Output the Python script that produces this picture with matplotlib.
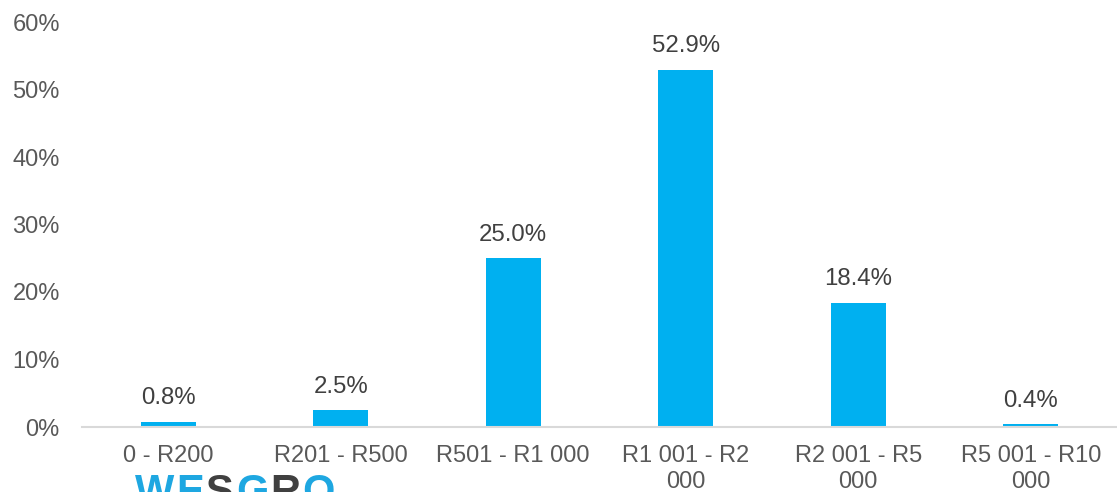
import matplotlib
matplotlib.use("Agg")
import matplotlib.pyplot as plt

categories = ["0 - R200", "R201 - R500", "R501 - R1 000", "R1 001 - R2\n000",
              "R2 001 - R5\n000", "R5 001 - R10\n000"]
shares = [0.8, 2.5, 25.0, 52.9, 18.4, 0.4]
yticks = [0, 10, 20, 30, 40, 50, 60]

plt.rcParams["font.family"] = ["Liberation Sans", "DejaVu Sans"]

W, H = 1117, 492
fig = plt.figure(figsize=(W / 100, H / 100), dpi=100)
ax = fig.add_axes([82 / W, (H - 427) / H, (W - 82) / W, (427 - 22) / H])

x = list(range(len(categories)))
bars = ax.bar(x, shares, width=0.32, color="#00B0F0")

for xi, v in zip(x, shares):
    ax.annotate(f"{v:.1f}%", (xi, v), xytext=(0, 9), textcoords="offset points",
                ha="center", va="bottom", fontsize=17.3, color="#404040")

ax.set_xlim(-0.5, len(categories) - 0.5)
ax.set_ylim(0, 60)
ax.set_yticks(yticks)
ax.set_yticklabels([f"{t}%" for t in yticks], fontsize=17, color="#595959")
ax.set_xticks(x)
ax.set_xticklabels(categories, fontsize=17, color="#595959", linespacing=1.25, va="top")
ax.tick_params(axis="both", length=0)
ax.tick_params(axis="y", pad=16)
ax.tick_params(axis="x", pad=13)

for s in ["top", "right", "left"]:
    ax.spines[s].set_visible(False)
ax.spines["bottom"].set_color("#d9d9d9")
ax.spines["bottom"].set_linewidth(1.5)

# Brand wordmark along the lower edge
logo = "WESGRO"
logo_colors = ["#1ea7e1", "#1ea7e1", "#404040", "#1ea7e1", "#404040", "#1ea7e1"]
lx = 135 / W
for ch, c in zip(logo, logo_colors):
    t = fig.text(lx, -0.043, ch, fontsize=30, fontweight="bold", color=c,
                 ha="left", va="bottom")
    fig.canvas.draw()
    bb = t.get_window_extent()
    lx += (bb.width + 2) / W

fig.savefig("out.png", dpi=100)
